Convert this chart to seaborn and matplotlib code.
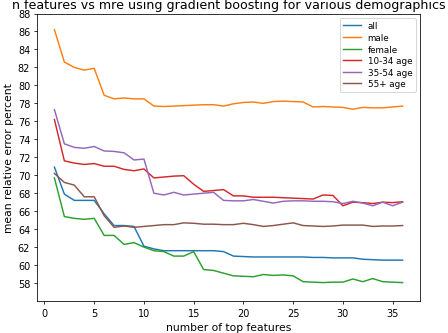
import numpy as np
import pandas as pd
import matplotlib
matplotlib.use("Agg")
import matplotlib.pyplot as plt
import seaborn as sns

# number of top features used by the model
n_features = list(range(1, 37))

# mean relative error (percent)
mre_all = [70.9, 67.9, 67.2, 67.2, 67.2, 65.7, 64.4, 64.4, 64.3, 62.1,
           61.8, 61.6, 61.6, 61.6, 61.6, 61.6, 61.6, 61.5, 61.0, 60.95,
           60.9, 60.9, 60.9, 60.9, 60.9, 60.9, 60.85, 60.85, 60.8, 60.8,
           60.8, 60.65, 60.6, 60.55, 60.55, 60.55]
mre_male = [86.2, 82.6, 82.0, 81.7, 81.9, 78.9, 78.5, 78.6, 78.5, 78.5,
            77.7, 77.65, 77.7, 77.75, 77.8, 77.85, 77.85, 77.7, 77.95, 78.1,
            78.15, 78.0, 78.2, 78.25, 78.2, 78.15, 77.6, 77.65, 77.6, 77.55,
            77.35, 77.55, 77.5, 77.5, 77.6, 77.7]
mre_female = [69.7, 65.4, 65.2, 65.1, 65.2, 63.3, 63.3, 62.3, 62.5, 62.0,
              61.6, 61.5, 61.0, 61.0, 61.5, 59.5, 59.4, 59.1, 58.8, 58.75,
              58.7, 58.95, 58.85, 58.9, 58.8, 58.15, 58.1, 58.05, 58.1, 58.1,
              58.45, 58.15, 58.5, 58.15, 58.1, 58.05]
mre_10_34 = [76.2, 71.6, 71.35, 71.2, 71.3, 71.0, 71.0, 70.65, 70.5, 70.7,
             69.7, 69.8, 69.9, 69.95, 69.0, 68.2, 68.3, 68.4, 67.7, 67.7,
             67.55, 67.55, 67.55, 67.5, 67.45, 67.4, 67.35, 67.8, 67.75, 66.6,
             67.0, 66.95, 66.85, 67.0, 66.95, 67.05]
mre_35_54 = [77.3, 73.5, 73.1, 73.0, 73.2, 72.7, 72.65, 72.5, 71.7, 71.8,
             68.0, 67.8, 68.1, 67.8, 67.9, 68.0, 68.1, 67.2, 67.15, 67.15,
             67.3, 67.1, 66.9, 67.1, 67.15, 67.15, 67.1, 67.1, 67.05, 66.85,
             67.1, 66.9, 66.6, 67.0, 66.6, 67.0]
mre_55_plus = [70.2, 69.2, 68.9, 67.6, 67.6, 65.5, 64.2, 64.35, 64.2, 64.3,
               64.4, 64.5, 64.5, 64.7, 64.65, 64.55, 64.55, 64.5, 64.5, 64.65,
               64.5, 64.3, 64.4, 64.55, 64.7, 64.4, 64.35, 64.3, 64.35, 64.45,
               64.45, 64.45, 64.3, 64.35, 64.35, 64.4]

labels = ["all", "male", "female", "10-34 age", "35-54 age", "55+ age"]
series = [mre_all, mre_male, mre_female, mre_10_34, mre_35_54, mre_55_plus]
colors = sns.color_palette("tab10", 6)

fig, ax = plt.subplots(figsize=(6.4, 4.771), dpi=70)
fig.subplots_adjust(left=0.0826, right=0.9375, bottom=0.0958, top=0.9566)

for lab, vals, col in zip(labels, series, colors):
    df = pd.DataFrame({"n": n_features, "mre": vals})
    sns.lineplot(data=df, x="n", y="mre", ax=ax, color=col, label=lab,
                 linewidth=1.5)

ax.set_ylim(56, 88)
ax.set_yticks(np.arange(58, 89, 2))
ax.set_xticks(np.arange(0, 36, 5))
ax.set_xlabel("number of top features", fontsize=11)
ax.set_ylabel("mean relative error percent", fontsize=11)
ax.set_title("n features vs mre using gradient boosting for various demographics",
             fontsize=13)
ax.legend(loc="upper right", fontsize=9, labelspacing=0.3)

fig.savefig("out.png", dpi=70)
